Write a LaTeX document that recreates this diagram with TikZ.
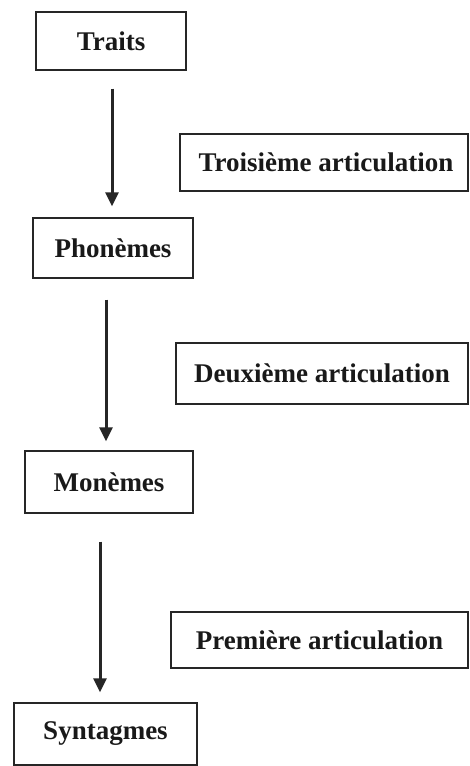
\documentclass[tikz,border=0pt]{standalone}
\usepackage{fontspec}
\setmainfont{Liberation Serif}
\usetikzlibrary{arrows.meta}
\begin{document}
\begin{tikzpicture}[x=1pt,y=-1pt,
  box/.style={draw=black!85, line width=1.4pt, inner sep=0pt, font=\fontsize{27}{32}\selectfont\bfseries, text=black!90},
  arr/.style={line width=3pt, draw=black!85, -{Triangle[length=14pt,width=13pt]}}]
\useasboundingbox[fill=white] (0,0) rectangle (469,766);
\node[box, minimum width=150pt, minimum height=58pt] (traits) at (111,41) {Traits};
\node[box, minimum width=288pt, minimum height=57pt] (trois) at (324,162.5) {\hspace*{4pt}Troisième articulation};
\node[box, minimum width=160pt, minimum height=60pt] (phon) at (113,248) {Phonèmes};
\node[box, minimum width=292pt, minimum height=61pt] (deux) at (322,373.5) {Deuxième articulation};
\node[box, minimum width=168pt, minimum height=62pt] (mon) at (109,482) {Monèmes};
\node[box, minimum width=297pt, minimum height=56pt] (prem) at (319.5,640) {Première articulation};
\node[box, minimum width=183pt, minimum height=62pt] (synt) at (105.5,734) {Syntagmes};
\draw[arr, shorten <=18pt, shorten >=11pt] ([xshift=1pt]traits.south) -- ([xshift=1pt]traits.south |- phon.north);
\draw[arr, shorten <=21pt, shorten >=9pt] ([xshift=-7pt]phon.south) -- ([xshift=-7pt]phon.south |- mon.north);
\draw[arr, shorten <=28pt, shorten >=10pt] ([xshift=-9pt]mon.south) -- ([xshift=-9pt]mon.south |- synt.north);
\end{tikzpicture}
\end{document}
